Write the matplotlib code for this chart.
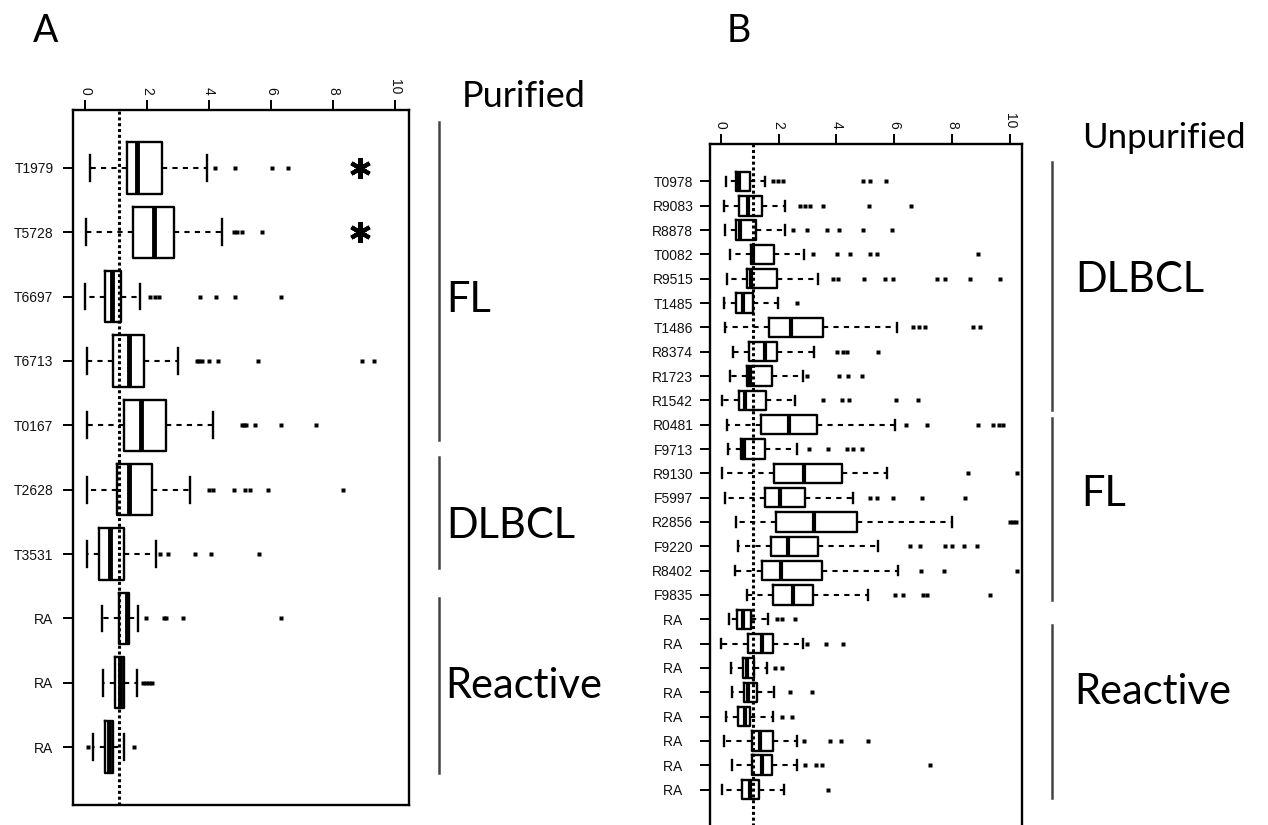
import numpy as np
import matplotlib.pyplot as plt
from matplotlib.lines import Line2D

# ---------------- panel A : purified samples ----------------
a_labels = ["T1979", "T5728", "T6697", "T6713", "T0167", "T2628", "T3531", "RA", "RA", "RA"]
a_whislo = [0.16, 0.03, 0.00, 0.05, 0.05, 0.05, 0.07, 0.56, 0.59, 0.27]
a_q1 = [1.34, 1.54, 0.65, 0.91, 1.24, 1.04, 0.46, 1.08, 0.97, 0.65]
a_med = [1.69, 2.23, 0.88, 1.42, 1.79, 1.42, 0.81, 1.34, 1.13, 0.78]
a_q3 = [2.47, 2.88, 1.16, 1.91, 2.61, 2.17, 1.26, 1.42, 1.26, 0.91]
a_whishi = [3.92, 4.41, 1.77, 3.01, 4.14, 3.39, 2.28, 1.70, 1.66, 1.24]
a_fliers = [
    [4.2, 4.84, 6.02, 6.54],
    [4.79, 4.9, 5.05, 5.7],
    [2.1, 2.25, 2.4, 3.71, 4.23, 4.84, 6.32],
    [3.6, 3.68, 3.76, 4.01, 4.3, 5.59, 8.92, 9.32],
    [5.05, 5.12, 5.2, 5.48, 6.32, 7.45],
    [4.01, 4.14, 4.79, 5.16, 5.32, 5.91, 8.33],
    [2.42, 2.68, 3.55, 4.05, 5.61],
    [1.97, 2.53, 2.61, 3.15, 6.32],
    [1.87, 1.95, 2.05, 2.15],
    [0.1, 1.58],
]
a_star_rows = [1, 2]
a_star_x = 8.87

# ---------------- panel B : unpurified samples ----------------
b_labels = ["T0978", "R9083", "R8878", "T0082", "R9515", "T1485", "T1486", "R8374",
            "R1723", "R1542", "R0481", "F9713", "R9130", "F5997", "R2856", "F9220",
            "R8402", "F9835", "RA", "RA", "RA", "RA", "RA", "RA", "RA", "RA"]
b_whislo = [0.18, 0.11, 0.15, 0.32, 0.23, 0.11, 0.15, 0.41, 0.32, 0.03, 0.23, 0.26, 0.03,
            0.15, 0.53, 0.61, 0.50, 0.90, 0.30, 0.01, 0.35, 0.38, 0.18, 0.11, 0.38, 0.03]
b_q1 = [0.53, 0.64, 0.53, 1.04, 0.90, 0.53, 1.66, 0.99, 0.90, 0.64, 1.38, 0.69, 1.84,
        1.53, 1.91, 1.73, 1.43, 1.80, 0.55, 0.95, 0.76, 0.80, 0.61, 1.07, 1.07, 0.72]
b_med = [0.64, 0.96, 0.67, 1.13, 1.05, 0.76, 2.42, 1.53, 1.01, 0.84, 2.37, 0.80, 2.88,
         2.05, 3.24, 2.32, 2.09, 2.49, 0.78, 1.42, 0.90, 0.94, 0.84, 1.36, 1.42, 1.01]
b_q3 = [1.01, 1.43, 1.22, 1.84, 1.96, 1.13, 3.55, 1.94, 1.76, 1.57, 3.32, 1.53, 4.18,
        2.91, 4.70, 3.37, 3.49, 3.20, 1.04, 1.80, 1.15, 1.26, 1.01, 1.80, 1.76, 1.33]
b_whishi = [1.53, 2.22, 2.22, 2.88, 3.37, 1.99, 6.08, 3.22, 2.83, 2.57, 6.03, 2.63, 5.76,
            4.58, 7.98, 5.43, 6.11, 5.10, 1.65, 2.83, 1.61, 1.84, 1.80, 2.63, 2.63, 2.19]
b_fliers = [
    [1.8, 1.98, 2.16, 4.93, 5.16, 5.71],
    [2.74, 2.9, 3.09, 3.55, 5.14, 6.57],
    [2.51, 2.97, 3.66, 4.07, 4.93, 5.91],
    [3.2, 4.01, 4.47, 5.16, 5.39, 8.9],
    [3.87, 4.06, 4.95, 5.67, 5.97, 7.49, 7.75, 8.6, 9.66],
    [2.63],
    [6.65, 6.85, 7.05, 8.73, 8.96],
    [4.01, 4.21, 4.38, 5.45],
    [2.99, 4.07, 4.41, 4.87],
    [3.53, 4.18, 4.44, 6.06, 6.83],
    [6.41, 7.14, 8.9, 9.42, 9.6, 9.77],
    [3.06, 3.72, 4.35, 4.56, 4.87],
    [8.56, 10.23],
    [5.16, 5.39, 5.97, 6.95, 8.44],
    [10.0, 10.1, 10.2],
    [6.54, 6.89, 7.75, 7.98, 8.39, 8.85],
    [6.91, 7.72, 10.23],
    [6.03, 6.31, 7.0, 7.14, 9.31],
    [1.94, 2.11, 2.57],
    [2.99, 3.63, 4.22],
    [1.88, 2.11],
    [2.4, 3.15],
    [2.11, 2.45],
    [2.88, 3.78, 4.15, 5.1],
    [2.9, 3.3, 3.5, 7.24],
    [3.72],
]

cutoff = 1.1
xticks = [0, 2, 4, 6, 8, 10]

W, H = 1268, 825
fig = plt.figure(figsize=(W / 100, H / 100), dpi=100)


def fx(px):
    return px / W


def fy(py):
    return 1 - py / H


def box_panel(rect, labels, whislo, q1, med, q3, whishi, fliers, xlim, label_size, label_pad, med_lw):
    ax = fig.add_axes(rect)
    n = len(labels)
    stats = []
    for lo, a, m, b, hi, fl in zip(whislo, q1, med, q3, whishi, fliers):
        stats.append(dict(whislo=lo, q1=a, med=m, q3=b, whishi=hi, fliers=fl))
    pos = np.arange(1, n + 1)
    ax.bxp(stats, positions=pos, orientation="horizontal", widths=0.8, capwidths=0.4,
           manage_ticks=False, patch_artist=False,
           boxprops=dict(color="black", lw=1.7),
           medianprops=dict(color="black", lw=med_lw, solid_capstyle="butt"),
           whiskerprops=dict(color="black", lw=1.5, linestyle=(0, (2.5, 2.5))),
           capprops=dict(color="black", lw=1.7),
           flierprops=dict(marker="s", markersize=2.6, markerfacecolor="black",
                           markeredgecolor="none", linestyle="none"))
    ax.axvline(cutoff, color="black", lw=2.2, linestyle=(0, (1, 0.9)), zorder=5)
    ax.set_xlim(*xlim)
    ext = 0.04 * n
    ax.set_ylim(n + 0.5 + ext, 0.5 - ext)
    ax.xaxis.tick_top()
    ax.set_xticks(xticks)
    ax.set_xticklabels([str(t) for t in xticks], rotation=-90, fontsize=10,
                       family="Liberation Sans", color="#111111")
    ax.set_yticks(pos)
    ax.set_yticklabels(labels, fontsize=label_size, family="Liberation Sans", color="#111111")
    ax.tick_params(axis="x", length=7, width=1.4, pad=4, direction="out")
    ax.tick_params(axis="y", length=7, width=1.4, pad=label_pad, direction="out")
    for s in ax.spines.values():
        s.set_linewidth(1.7)
    return ax


ax_a = box_panel([fx(73), fy(805), fx(409 - 73), (805 - 110) / H], a_labels,
                 a_whislo, a_q1, a_med, a_q3, a_whishi, a_fliers,
                 (-0.39, 10.45), 10, 7, 3.5)
ax_a.plot([a_star_x] * len(a_star_rows), a_star_rows, linestyle="none",
          marker=(6, 2, 0), markersize=15, markeredgewidth=3, color="black", zorder=6)

b_labels_shown = [lab + "   " if lab == "RA" else lab for lab in b_labels]
ax_b = box_panel([fx(710), fy(827), fx(1022 - 710), (827 - 144) / H], b_labels_shown,
                 b_whislo, b_q1, b_med, b_q3, b_whishi, b_fliers,
                 (-0.37, 10.41), 10, 5, 3.0)

# panel letters and headings
big = dict(family="Lato", color="black", ha="left", va="baseline")
fig.text(fx(33), fy(42), "A", fontsize=27, **big)
fig.text(fx(727), fy(42), "B", fontsize=27, **big)
fig.text(fx(462), fy(107), "Purified", fontsize=26, **big)
fig.text(fx(1082), fy(148), "Unpurified", fontsize=25, **big)

# diagnosis brackets
groups_a = [("FL", 122, 440, 446, 312), ("DLBCL", 457, 568, 446, 538), ("Reactive", 598, 773, 445, 698)]
groups_b = [("DLBCL", 162, 410, 1075, 292), ("FL", 418, 600, 1081, 506), ("Reactive", 625, 798, 1074, 704)]
for line_x, groups in [(439, groups_a), (1052, groups_b)]:
    for name, y0, y1, tx, ty in groups:
        fig.add_artist(Line2D([fx(line_x), fx(line_x)], [fy(y0), fy(y1)],
                              color="#444444", lw=1.8, transform=fig.transFigure))
        fig.text(fx(tx), fy(ty), name, fontsize=30, **big)

fig.savefig("out.png", dpi=100)
